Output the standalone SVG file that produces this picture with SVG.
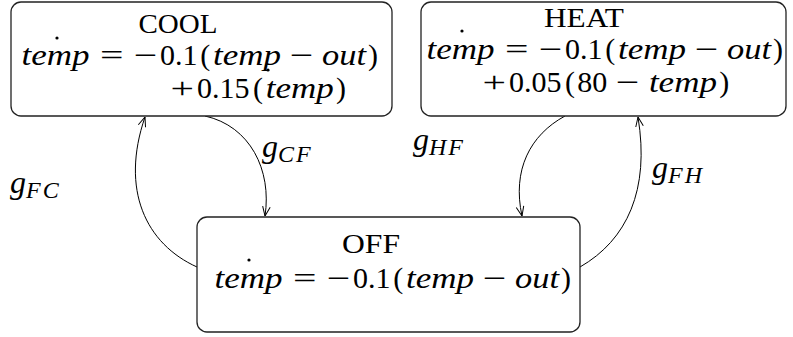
<svg xmlns="http://www.w3.org/2000/svg" width="793" height="337" viewBox="0 0 793 337">
<style>
.box{fill:#fff;stroke:#222;stroke-width:1.3}
.ttl{font-family:"Liberation Serif",serif;font-size:27px;fill:#000;text-anchor:middle}
.m{font-family:"Liberation Serif",serif;font-size:30px;fill:#000;text-anchor:middle}
.op{font-family:"Liberation Serif",serif;font-size:30px;fill:#000}
.mi{font-family:"Liberation Serif",serif;font-size:30px;font-style:italic;fill:#000}
.lbl{font-family:"Liberation Serif",serif;font-size:32px;font-style:italic;fill:#000}
.sub{font-size:24px;letter-spacing:2px}
.edge{fill:none;stroke:#000;stroke-width:1}
.dot{fill:#000}
</style>
<defs>
<marker id="arr" viewBox="0 0 10 10" refX="10" refY="5" markerWidth="10" markerHeight="10" markerUnits="userSpaceOnUse" orient="auto">
<path d="M0.5,1.2 L10,5 L0.5,8.8" fill="none" stroke="#000" stroke-width="1"/>
</marker>
</defs>

<g id="edges">
<path class="edge" d="M205,116 C250,126 272,170 265,216" marker-end="url(#arr)"/>
<path class="edge" d="M197,267 C146,244 120,190 145,117" marker-end="url(#arr)"/>
<path class="edge" d="M565,116 C530,135 512,170 522,216" marker-end="url(#arr)"/>
<path class="edge" d="M580,267 C627,240 650,190 638,117" marker-end="url(#arr)"/>
<text class="lbl" x="262" y="157">g<tspan class="sub" dy="5">CF</tspan></text>
<text class="lbl" x="10" y="193">g<tspan class="sub" dy="5">FC</tspan></text>
<text class="lbl" x="413" y="150">g<tspan class="sub" dy="5">HF</tspan></text>
<text class="lbl" x="652" y="178">g<tspan class="sub" dy="5">FH</tspan></text>
</g>

<g id="cool">
<rect class="box" x="11" y="2" width="381" height="114" rx="10"/>
<text class="ttl" x="178" y="33" textLength="79" lengthAdjust="spacingAndGlyphs">COOL</text>
<text class="mi" x="21.5" y="64.5" textLength="68" lengthAdjust="spacingAndGlyphs">temp</text>
<text class="op" x="100" y="64.5" textLength="23.5" lengthAdjust="spacingAndGlyphs">=</text>
<text class="op" x="134" y="64.5" textLength="23.5" lengthAdjust="spacingAndGlyphs">−</text>
<text class="m" y="64.5"><tspan x="178.7">0.1</tspan><tspan x="205.3">(</tspan></text>
<text class="mi" x="213.1" y="64.5" textLength="68" lengthAdjust="spacingAndGlyphs">temp</text>
<text class="op" x="290" y="64.5" textLength="23.5" lengthAdjust="spacingAndGlyphs">−</text>
<text class="mi" x="322" y="64.5" textLength="44" lengthAdjust="spacingAndGlyphs">out</text>
<text class="m" x="372.9" y="64.5">)</text>
<circle class="dot" cx="57" cy="38" r="1.6"/>
<text class="op" x="170.5" y="98" textLength="23.5" lengthAdjust="spacingAndGlyphs">+</text>
<text class="m" y="98"><tspan x="223.3">0.15</tspan><tspan x="258">(</tspan></text>
<text class="mi" x="265.7" y="98" textLength="68" lengthAdjust="spacingAndGlyphs">temp</text>
<text class="m" x="341.1" y="98">)</text>
<circle class="dot" cx="268" cy="70" r="1.6"/>
</g>

<g id="heat">
<rect class="box" x="421" y="2" width="365" height="114" rx="10"/>
<text class="ttl" x="584" y="27" textLength="80" lengthAdjust="spacingAndGlyphs">HEAT</text>
<text class="mi" x="426.5" y="58.5" textLength="68" lengthAdjust="spacingAndGlyphs">temp</text>
<text class="op" x="505" y="58.5" textLength="23.5" lengthAdjust="spacingAndGlyphs">=</text>
<text class="op" x="539" y="58.5" textLength="23.5" lengthAdjust="spacingAndGlyphs">−</text>
<text class="m" y="58.5"><tspan x="583.7">0.1</tspan><tspan x="610.3">(</tspan></text>
<text class="mi" x="618.1" y="58.5" textLength="68" lengthAdjust="spacingAndGlyphs">temp</text>
<text class="op" x="695" y="58.5" textLength="23.5" lengthAdjust="spacingAndGlyphs">−</text>
<text class="mi" x="727" y="58.5" textLength="44" lengthAdjust="spacingAndGlyphs">out</text>
<text class="m" x="777.9" y="58.5">)</text>
<circle class="dot" cx="462" cy="31" r="1.6"/>
<text class="op" x="482.5" y="92" textLength="23.5" lengthAdjust="spacingAndGlyphs">+</text>
<text class="m" y="92"><tspan x="535.3">0.05</tspan><tspan x="570">(</tspan><tspan x="592.2">80</tspan></text>
<text class="op" x="615.9" y="92" textLength="23.5" lengthAdjust="spacingAndGlyphs">−</text>
<text class="mi" x="648.9" y="92" textLength="68" lengthAdjust="spacingAndGlyphs">temp</text>
<text class="m" x="724.2" y="92">)</text>
</g>

<g id="off">
<rect class="box" x="197" y="217" width="383" height="115" rx="10"/>
<text class="ttl" x="371" y="253" textLength="58" lengthAdjust="spacingAndGlyphs">OFF</text>
<text class="mi" x="214.5" y="288" textLength="68" lengthAdjust="spacingAndGlyphs">temp</text>
<text class="op" x="293" y="288" textLength="23.5" lengthAdjust="spacingAndGlyphs">=</text>
<text class="op" x="327" y="288" textLength="23.5" lengthAdjust="spacingAndGlyphs">−</text>
<text class="m" y="288"><tspan x="371.7">0.1</tspan><tspan x="398.3">(</tspan></text>
<text class="mi" x="406.1" y="288" textLength="68" lengthAdjust="spacingAndGlyphs">temp</text>
<text class="op" x="483" y="288" textLength="23.5" lengthAdjust="spacingAndGlyphs">−</text>
<text class="mi" x="515" y="288" textLength="44" lengthAdjust="spacingAndGlyphs">out</text>
<text class="m" x="565.9" y="288">)</text>
<circle class="dot" cx="249" cy="260" r="1.6"/>
</g>
</svg>
